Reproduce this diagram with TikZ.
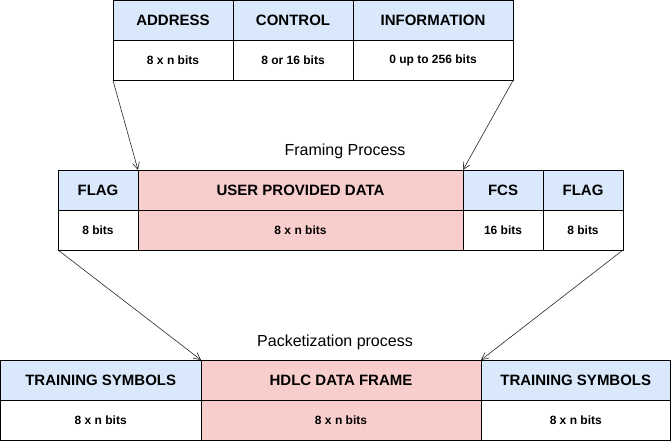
\documentclass[tikz,border=0pt]{standalone}
\usepackage{fontspec}
\setmainfont{Liberation Sans}
\usetikzlibrary{arrows.meta}

\definecolor{headblue}{HTML}{DAE8FC}
\definecolor{datared}{HTML}{F8CECC}

\tikzset{
    cell/.style={draw=black, line width=1pt, inner sep=0pt, outer sep=0pt,
        anchor=north west, minimum height=40pt},
    head/.style={cell, fill=headblue, font=\fontsize{15}{18}\selectfont\bfseries},
    bits/.style={cell, fill=white, font=\fontsize{12}{14}\selectfont\bfseries},
    link/.style={-{Straight Barb[length=7pt, width=7pt]}, line width=0.6pt, draw=black!85},
    caption/.style={font=\fontsize{16}{19}\selectfont}
}

\begin{document}
\begin{tikzpicture}[x=1pt, y=-1pt]
    \useasboundingbox (0,0) rectangle (671,441);

    % HDLC fields (top)
    \node[head, minimum width=120pt] (addr) at (113,0.5) {ADDRESS};
    \node[head, minimum width=120pt] (ctrl) at (233,0.5) {CONTROL};
    \node[head, minimum width=160pt] (info) at (353,0.5) {INFORMATION};
    \node[bits, minimum width=120pt] (addrbits) at (113,40.5) {8 x n bits};
    \node[bits, minimum width=120pt] (ctrlbits) at (233,40.5) {8 or 16 bits};
    \node[bits, minimum width=160pt] (infobits) at (353,40.5) {0 up to 256 bits};

    % Framing
    \node[caption] (framing) at (345,151.5) {Framing Process};

    \node[head, minimum width=80pt] (flagA) at (58,170) {FLAG};
    \node[head, fill=datared, minimum width=325pt] (upd) at (138,170) {USER PROVIDED DATA};
    \node[head, minimum width=80pt] (fcs) at (463,170) {FCS};
    \node[head, minimum width=80pt] (flagB) at (543,170) {FLAG};
    \node[bits, minimum width=80pt] (flagAbits) at (58,210) {8 bits};
    \node[bits, fill=datared, minimum width=325pt] (updbits) at (138,210) {8 x n bits};
    \node[bits, minimum width=80pt] (fcsbits) at (463,210) {16 bits};
    \node[bits, minimum width=80pt] (flagBbits) at (543,210) {8 bits};

    % Packetization
    \node[caption] (packet) at (335,342) {Packetization process};

    \node[head, minimum width=200.5pt] (trainA) at (0.5,360) {TRAINING SYMBOLS};
    \node[head, fill=datared, minimum width=280pt] (hdlc) at (201,360) {HDLC DATA FRAME};
    \node[head, minimum width=189.5pt] (trainB) at (481,360) {TRAINING SYMBOLS};
    \node[bits, minimum width=200.5pt] (trainAbits) at (0.5,400) {8 x n bits};
    \node[bits, fill=datared, minimum width=280pt] (hdlcbits) at (201,400) {8 x n bits};
    \node[bits, minimum width=189.5pt] (trainBbits) at (481,400) {8 x n bits};

    % Connectors
    \draw[link] (addrbits.south west) -- (upd.north west);
    \draw[link] (infobits.south east) -- (upd.north east);
    \draw[link] (flagAbits.south west) -- (hdlc.north west);
    \draw[link] (flagBbits.south east) -- (hdlc.north east);

\end{tikzpicture}
\end{document}
